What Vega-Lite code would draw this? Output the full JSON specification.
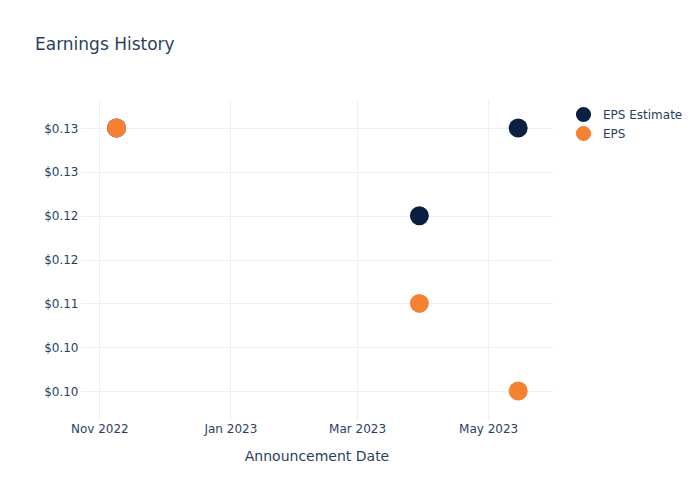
{
  "$schema": "https://vega.github.io/schema/vega-lite/v6.json",
  "autosize": {"type": "none"},
  "width": 473,
  "height": 320,
  "padding": {"left": 80, "top": 100, "right": 147, "bottom": 80},
  "background": "white",
  "title": {
    "text": "Earnings History",
    "anchor": "start",
    "frame": "group",
    "dx": -45,
    "offset": 46,
    "fontSize": 17,
    "font": "DejaVu Sans",
    "fontWeight": "normal",
    "color": "#2a3f5f"
  },
  "data": {
    "values": [
      {"date": "2022-11-09", "series": "EPS Estimate", "value": 0.13},
      {"date": "2023-03-30", "series": "EPS Estimate", "value": 0.12},
      {"date": "2023-05-15", "series": "EPS Estimate", "value": 0.13},
      {"date": "2022-11-09", "series": "EPS", "value": 0.13},
      {"date": "2023-03-30", "series": "EPS", "value": 0.11},
      {"date": "2023-05-15", "series": "EPS", "value": 0.10}
    ]
  },
  "mark": {"type": "point", "filled": true, "opacity": 1, "size": 360},
  "encoding": {
    "x": {
      "field": "date",
      "type": "temporal",
      "title": "Announcement Date",
      "scale": {
        "type": "utc",
        "domain": [
          {"year": 2022, "month": 10, "date": 23, "utc": true},
          {"year": 2023, "month": 5, "date": 31, "hours": 5, "utc": true}
        ]
      },
      "axis": {
        "values": [
          {"year": 2022, "month": 11, "date": 1, "utc": true},
          {"year": 2023, "month": 1, "date": 1, "utc": true},
          {"year": 2023, "month": 3, "date": 1, "utc": true},
          {"year": 2023, "month": 5, "date": 1, "utc": true}
        ],
        "format": "%b %Y",
        "domain": false,
        "ticks": false,
        "grid": true,
        "gridColor": "#ebf0f8",
        "gridWidth": 1,
        "labelFont": "DejaVu Sans",
        "labelFontSize": 12,
        "labelColor": "#2a3f5f",
        "labelPadding": 3,
        "titleFont": "DejaVu Sans",
        "titleFontSize": 14,
        "titleFontWeight": "normal",
        "titleColor": "#2a3f5f",
        "titlePadding": 15
      }
    },
    "y": {
      "field": "value",
      "type": "quantitative",
      "title": null,
      "scale": {"domain": [0.0967, 0.1332], "nice": false, "zero": false},
      "axis": {
        "values": [0.10, 0.105, 0.11, 0.115, 0.12, 0.125, 0.13],
        "format": "$.2f",
        "domain": false,
        "ticks": false,
        "grid": true,
        "gridColor": "#ebf0f8",
        "gridWidth": 1,
        "labelFont": "DejaVu Sans",
        "labelFontSize": 12,
        "labelColor": "#2a3f5f",
        "labelPadding": 2
      }
    },
    "color": {
      "field": "series",
      "type": "nominal",
      "scale": {"domain": ["EPS Estimate", "EPS"], "range": ["#0b1f41", "#f58232"]},
      "legend": {
        "title": null,
        "orient": "none",
        "legendX": 495,
        "legendY": 6,
        "symbolType": "circle",
        "symbolSize": 230,
        "symbolOpacity": 1,
        "labelFont": "DejaVu Sans",
        "labelFontSize": 12,
        "labelColor": "#2a3f5f",
        "rowPadding": 2,
        "labelOffset": 11
      }
    }
  },
  "config": {"view": {"stroke": null}}
}
